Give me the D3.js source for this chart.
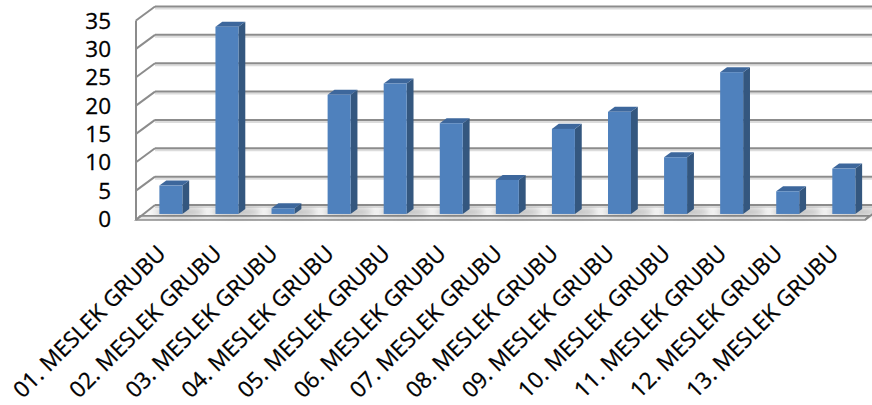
<!DOCTYPE html>
<html>
<head>
<meta charset="utf-8">
<script src="https://cdn.jsdelivr.net/npm/d3@7"></script>
<style>
  body { margin: 0; background: #fff; }
  text { font-family: "Open Sans", sans-serif; fill: #000; stroke: #000; stroke-width: 0.3px; }
</style>
</head>
<body>
<div id="chart"></div>
<script>
const categories = [
  "01. MESLEK GRUBU", "02. MESLEK GRUBU", "03. MESLEK GRUBU", "04. MESLEK GRUBU",
  "05. MESLEK GRUBU", "06. MESLEK GRUBU", "07. MESLEK GRUBU", "08. MESLEK GRUBU",
  "09. MESLEK GRUBU", "10. MESLEK GRUBU", "11. MESLEK GRUBU", "12. MESLEK GRUBU",
  "13. MESLEK GRUBU"
]
const values = [5, 33, 1, 21, 23, 16, 6, 15, 18, 10, 25, 4, 8]
const yTicks = [0, 5, 10, 15, 20, 25, 30, 35]

function drawChart() {
  const width = 872, height = 405

  // oblique 3d: depth 0 = front plane, 1 = back wall
  const depth = { dx: 19, dy: 14 }
  const baseY = 219
  const plot = { left: 136, right: 865 }
  const barDepth = [0.36, 0.72]

  const svg = d3.select("#chart")
    .append("svg")
      .attr("width", width)
      .attr("height", height)

  const defs = svg.append("defs")
  defs.append("filter")
      .attr("id", "blur")
      .attr("x", "-50%").attr("y", "-200%")
      .attr("width", "200%").attr("height", "500%")
    .append("feGaussianBlur")
      .attr("stdDeviation", 3)

  const x = d3.scaleBand()
    .domain(categories)
    .range([plot.left, plot.right])
    .paddingInner(0.59)
    .paddingOuter(0.295)

  const y = d3.scaleLinear()
    .domain([0, 35])
    .range([0, 198.5])

  const pt = (px, v, t) => [px + depth.dx * t, baseY - depth.dy * t - y(v)]
  const poly = pts => pts.map(p => p.join(",")).join(" ")

  // floor
  const floorFront = 0.22
  svg.append("polygon")
      .attr("points", poly([
        pt(plot.left, 0, floorFront), pt(plot.right, 0, floorFront),
        pt(plot.right, 0, 1), pt(plot.left, 0, 1)
      ]))
      .attr("fill", "#f7f7f7")
  svg.append("polygon")
      .attr("points", poly([
        pt(plot.left, 0, floorFront),
        pt(plot.right, 0, floorFront),
        [plot.right, baseY + 1],
        [plot.left, baseY + 1]
      ]))
      .attr("fill", "#e6e6e6")
      .attr("stroke", "#8c8c8c")
      .attr("stroke-width", 1.6)
  svg.append("line")
      .attr("x1", plot.right).attr("y1", baseY + 1)
      .attr("x2", pt(plot.right, 0, 1)[0]).attr("y2", pt(plot.right, 0, 1)[1])
      .attr("stroke", "#8c8c8c").attr("stroke-width", 2)

  // grid on back wall and side wall
  const grid = svg.append("g")
  yTicks.forEach(v => {
    const back = pt(plot.left, v, 1)
    const front = pt(plot.left, v, 0)
    grid.append("line")
        .attr("x1", back[0]).attr("y1", back[1] + 2)
        .attr("x2", width + 20).attr("y2", back[1] + 2)
        .attr("stroke", "#dcdcdc").attr("stroke-width", 2)
    grid.append("line")
        .attr("x1", back[0]).attr("y1", back[1])
        .attr("x2", width + 20).attr("y2", back[1])
        .attr("stroke", "#8c8c8c").attr("stroke-width", 2)
    grid.append("line")
        .attr("x1", front[0]).attr("y1", v === 0 ? baseY + 1 : front[1])
        .attr("x2", back[0]).attr("y2", back[1])
        .attr("stroke", "#8c8c8c").attr("stroke-width", 2)
  })
  grid.append("line")
      .attr("x1", plot.left).attr("y1", pt(plot.left, 35, 0)[1])
      .attr("x2", plot.left).attr("y2", baseY + 1)
      .attr("stroke", "#8c8c8c").attr("stroke-width", 2)

  // shadows on floor
  const bw = x.bandwidth()
  const dd = barDepth[1] - barDepth[0]
  svg.append("g")
    .selectAll("ellipse")
    .data(categories)
    .join("ellipse")
      .attr("cx", d => pt(x(d) + bw * 0.9, 0, barDepth[0])[0])
      .attr("cy", d => pt(x(d), 0, barDepth[0])[1] - 2)
      .attr("rx", bw * 1.1)
      .attr("ry", 3.5)
      .attr("fill", "#777")
      .attr("opacity", 0.5)
      .attr("filter", "url(#blur)")

  // bars
  const bars = svg.append("g")
    .selectAll("g")
    .data(categories.map((c, i) => ({ c, v: values[i] })))
    .join("g")

  bars.append("polygon")
      .attr("points", d => {
        const a = pt(x(d.c) + bw, 0, barDepth[0])
        const b = pt(x(d.c) + bw, d.v, barDepth[0])
        return poly([a, b,
          [b[0] + depth.dx * dd, b[1] - depth.dy * dd],
          [a[0] + depth.dx * dd, a[1] - depth.dy * dd]])
      })
      .attr("fill", "#34577f")
  bars.append("polygon")
      .attr("points", d => {
        const a = pt(x(d.c), d.v, barDepth[0])
        const b = pt(x(d.c) + bw, d.v, barDepth[0])
        return poly([a, b,
          [b[0] + depth.dx * dd, b[1] - depth.dy * dd],
          [a[0] + depth.dx * dd, a[1] - depth.dy * dd]])
      })
      .attr("fill", "#3d679c")
  bars.append("rect")
      .attr("x", d => pt(x(d.c), d.v, barDepth[0])[0])
      .attr("y", d => pt(x(d.c), d.v, barDepth[0])[1])
      .attr("width", bw)
      .attr("height", d => y(d.v))
      .attr("fill", "#4f81bd")

  // y axis labels (front plane)
  svg.append("g")
    .selectAll("text")
    .data(yTicks)
    .join("text")
      .attr("x", 111)
      .attr("y", d => pt(plot.left, d, 0)[1])
      .attr("dy", "0.36em")
      .attr("text-anchor", "end")
      .style("font-size", "22.5px")
      .text(d => d)

  // category labels
  svg.append("g")
    .selectAll("text")
    .data(categories)
    .join("text")
      .attr("transform", d => `translate(${x(d) + bw / 2 + 3},255) rotate(-45)`)
      .attr("text-anchor", "end")
      .style("font-size", "22.5px")
      .text(d => d)
}
drawChart()
</script>
</body>
</html>
